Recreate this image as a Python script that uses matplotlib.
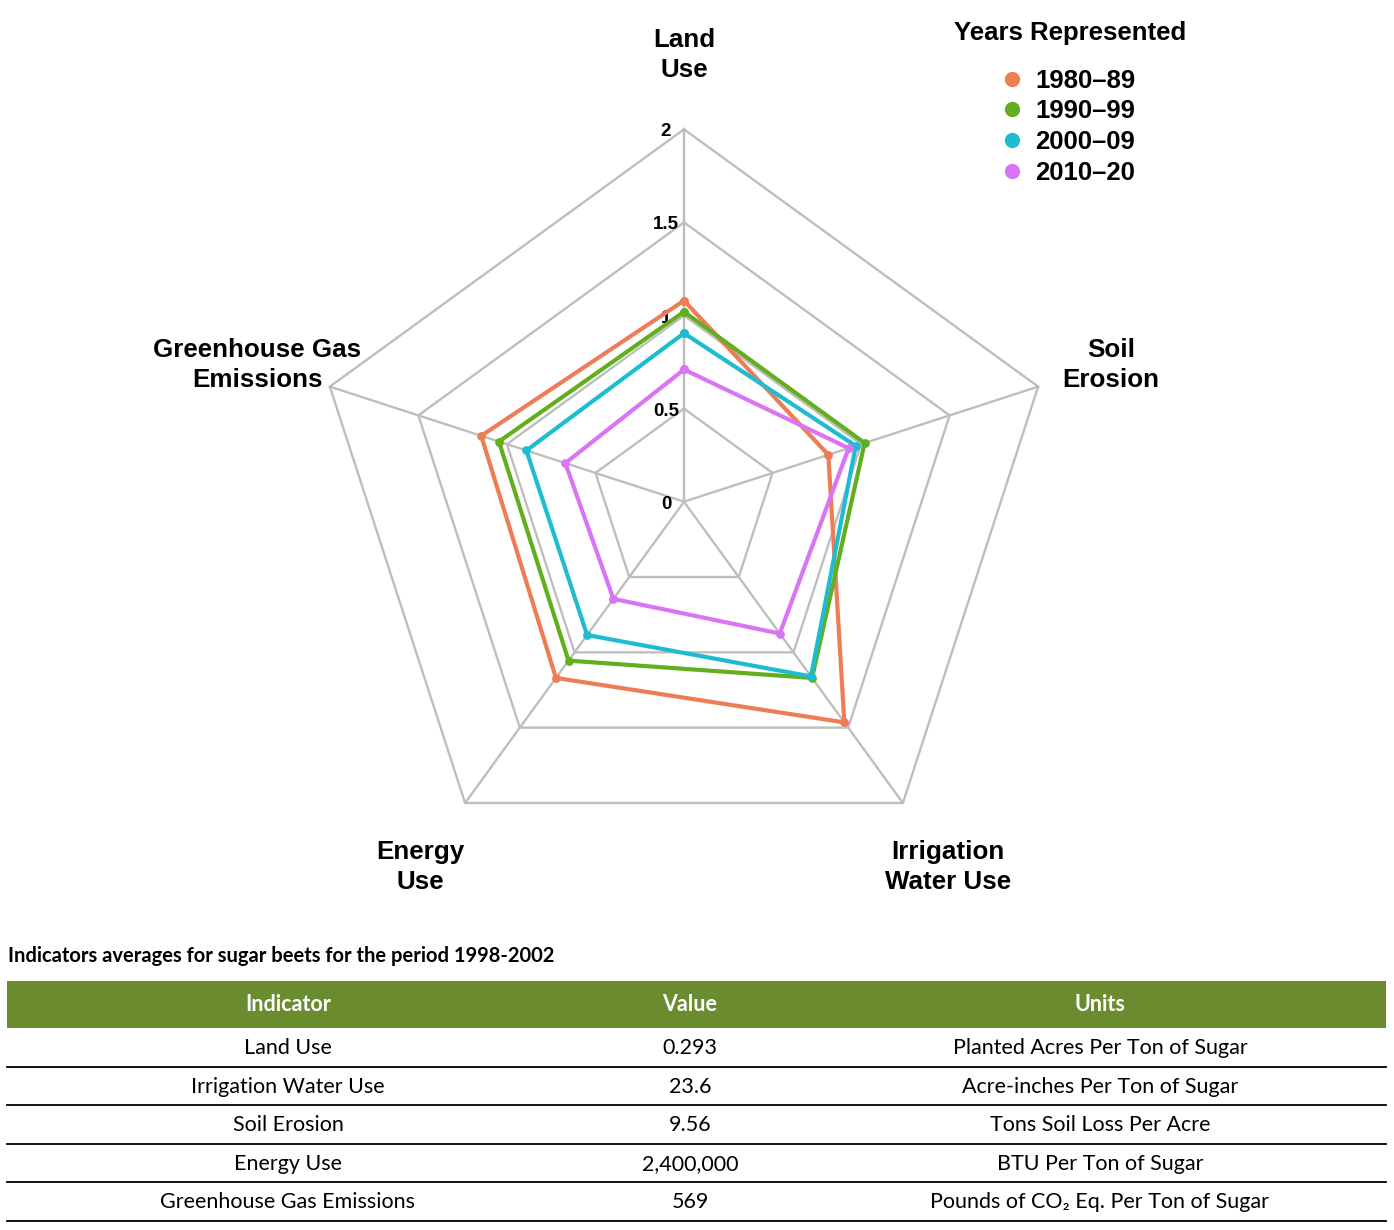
import matplotlib
matplotlib.use('Agg')
import matplotlib.pyplot as plt
import numpy as np
from matplotlib.lines import Line2D
from matplotlib.patches import Rectangle
from matplotlib.font_manager import FontProperties

# ---------------- data ----------------
axis_labels = ['Land\nUse', 'Soil\nErosion', 'Irrigation\nWater Use', 'Energy\nUse', 'Greenhouse Gas\nEmissions']
series_names = ['1980–89', '1990–99', '2000–09', '2010–20']
v_1980 = [1.08, 0.815, 1.465, 1.17, 1.145]
v_1990 = [1.02, 1.02, 1.17, 1.055, 1.045]
v_2000 = [0.905, 0.97, 1.16, 0.885, 0.89]
v_2010 = [0.71, 0.93, 0.875, 0.645, 0.67]
r_ticks = [0, 0.5, 1, 1.5, 2]
r_tick_labels = ['0', '0.5', '1', '1.5', '2']

table_title = 'Indicators averages for sugar beets for the period 1998-2002'
table_cols = ['Indicator', 'Value', 'Units']
tbl_indicator = ['Land Use', 'Irrigation Water Use', 'Soil Erosion', 'Energy Use', 'Greenhouse Gas Emissions']
tbl_value = ['0.293', '23.6', '9.56', '2,400,000', '569']
tbl_units = ['Planted Acres Per Ton of Sugar', 'Acre-inches Per Ton of Sugar',
             'Tons Soil Loss Per Acre', 'BTU Per Ton of Sugar', 'Pounds of CO₂ Eq. Per Ton of Sugar']

colors = ['#EE7D56', '#62AE1E', '#1EBCD0', '#DA74F5']
grid_color = '#BEBEBE'
header_color = '#6B8C2E'

# ---------------- figure ----------------
W, H, DPI = 1394, 1230, 100
fig = plt.figure(figsize=(W / DPI, H / DPI), dpi=DPI)
fig.patch.set_facecolor('white')

BOLD = dict(family=['Liberation Sans', 'DejaVu Sans'], weight='bold')
TBL = ['Lato', 'DejaVu Sans']

# overlay axes in pixel coordinates (for text and table)
ov = fig.add_axes([0, 0, 1, 1])
ov.set_xlim(0, W)
ov.set_ylim(H, 0)
ov.axis('off')
ov.patch.set_alpha(0)

# ---------------- radar ----------------
cx, cy, R = 684, 501.7, 372.4
ax = fig.add_axes([(cx - R) / W, (H - cy - R) / H, 2 * R / W, 2 * R / H], projection='polar')
ax.set_theta_zero_location('N')
ax.set_theta_direction(-1)
ax.set_ylim(0, max(r_ticks))
ax.grid(False)
ax.spines['polar'].set_visible(False)
ax.set_xticks([])
ax.set_yticks([])
ax.patch.set_alpha(0)

n = len(axis_labels)
theta = np.arange(n) * 2 * np.pi / n
theta_c = np.append(theta, theta[0])

for r in r_ticks[1:]:
    ax.plot(theta_c, [r] * (n + 1), color=grid_color, lw=1.7, zorder=1, clip_on=False)
for t in theta:
    ax.plot([t, t], [0, max(r_ticks)], color=grid_color, lw=1.7, zorder=1, clip_on=False)

for r, lab in zip(r_ticks, r_tick_labels):
    ax.annotate(lab, xy=(0, r), xytext=(-18, -7), textcoords='offset pixels',
                ha='center', va='baseline', fontsize=13.5, zorder=2, **BOLD)

for vals, c, name in zip([v_1980, v_1990, v_2000, v_2010], colors, series_names):
    vv = np.append(vals, vals[0])
    ax.plot(theta_c, vv, color=c, lw=3.0, zorder=3, marker='o', markersize=6.3,
            markeredgewidth=0, label=name, clip_on=False)

# axis labels
label_pos = [(684, 55), (1111, 365), (948, 867), (420, 867), (257, 365)]
for lab, (x, y) in zip(axis_labels, label_pos):
    ov.text(x, y, lab, ha='center', va='center', fontsize=18.7, linespacing=1.3, **BOLD)

# legend
fp = FontProperties(family=['Liberation Sans', 'DejaVu Sans'], weight='bold', size=18.5)
ov.text(1070, 33, 'Years Represented', ha='center', va='center', fontproperties=fp)
handles = [Line2D([], [], ls='', marker='o', markersize=11, markeredgewidth=0, color=c) for c in colors]
leg = fig.legend(handles, series_names, loc='upper left',
                 bbox_to_anchor=(999 / W, 1 - 68.5 / H), frameon=False, prop=fp,
                 handlelength=1.0, handletextpad=0.4,
                 labelspacing=0.27, borderpad=0, borderaxespad=0)

# ---------------- table ----------------
ov.text(8, 956, table_title, ha='left', va='center', fontsize=14.5, family=TBL, weight='bold')
tx0, tx1 = 7, 1386
col_edges = [7, 569, 811, 1389]
col_centers = [(col_edges[i] + col_edges[i + 1]) / 2 for i in range(3)]
hdr_top, hdr_bot = 981, 1028
row_h = 38.5
ov.add_patch(Rectangle((tx0, hdr_top), tx1 - tx0, hdr_bot - hdr_top, color=header_color, lw=0))
for c, xc in zip(table_cols, col_centers):
    ov.text(xc, (hdr_top + hdr_bot) / 2, c, ha='center', va='center', color='white',
            fontsize=15.5, family=TBL, weight='bold')
for i, row in enumerate(zip(tbl_indicator, tbl_value, tbl_units)):
    y0 = hdr_bot + i * row_h
    for txt, xc in zip(row, col_centers):
        ov.text(xc, y0 + row_h / 2 + 1, txt, ha='center', va='center', fontsize=15.5, family=TBL)
    ov.plot([tx0, tx1], [y0 + row_h, y0 + row_h], color='black', lw=1.3)

fig.savefig('out.png', dpi=DPI, facecolor='white')
